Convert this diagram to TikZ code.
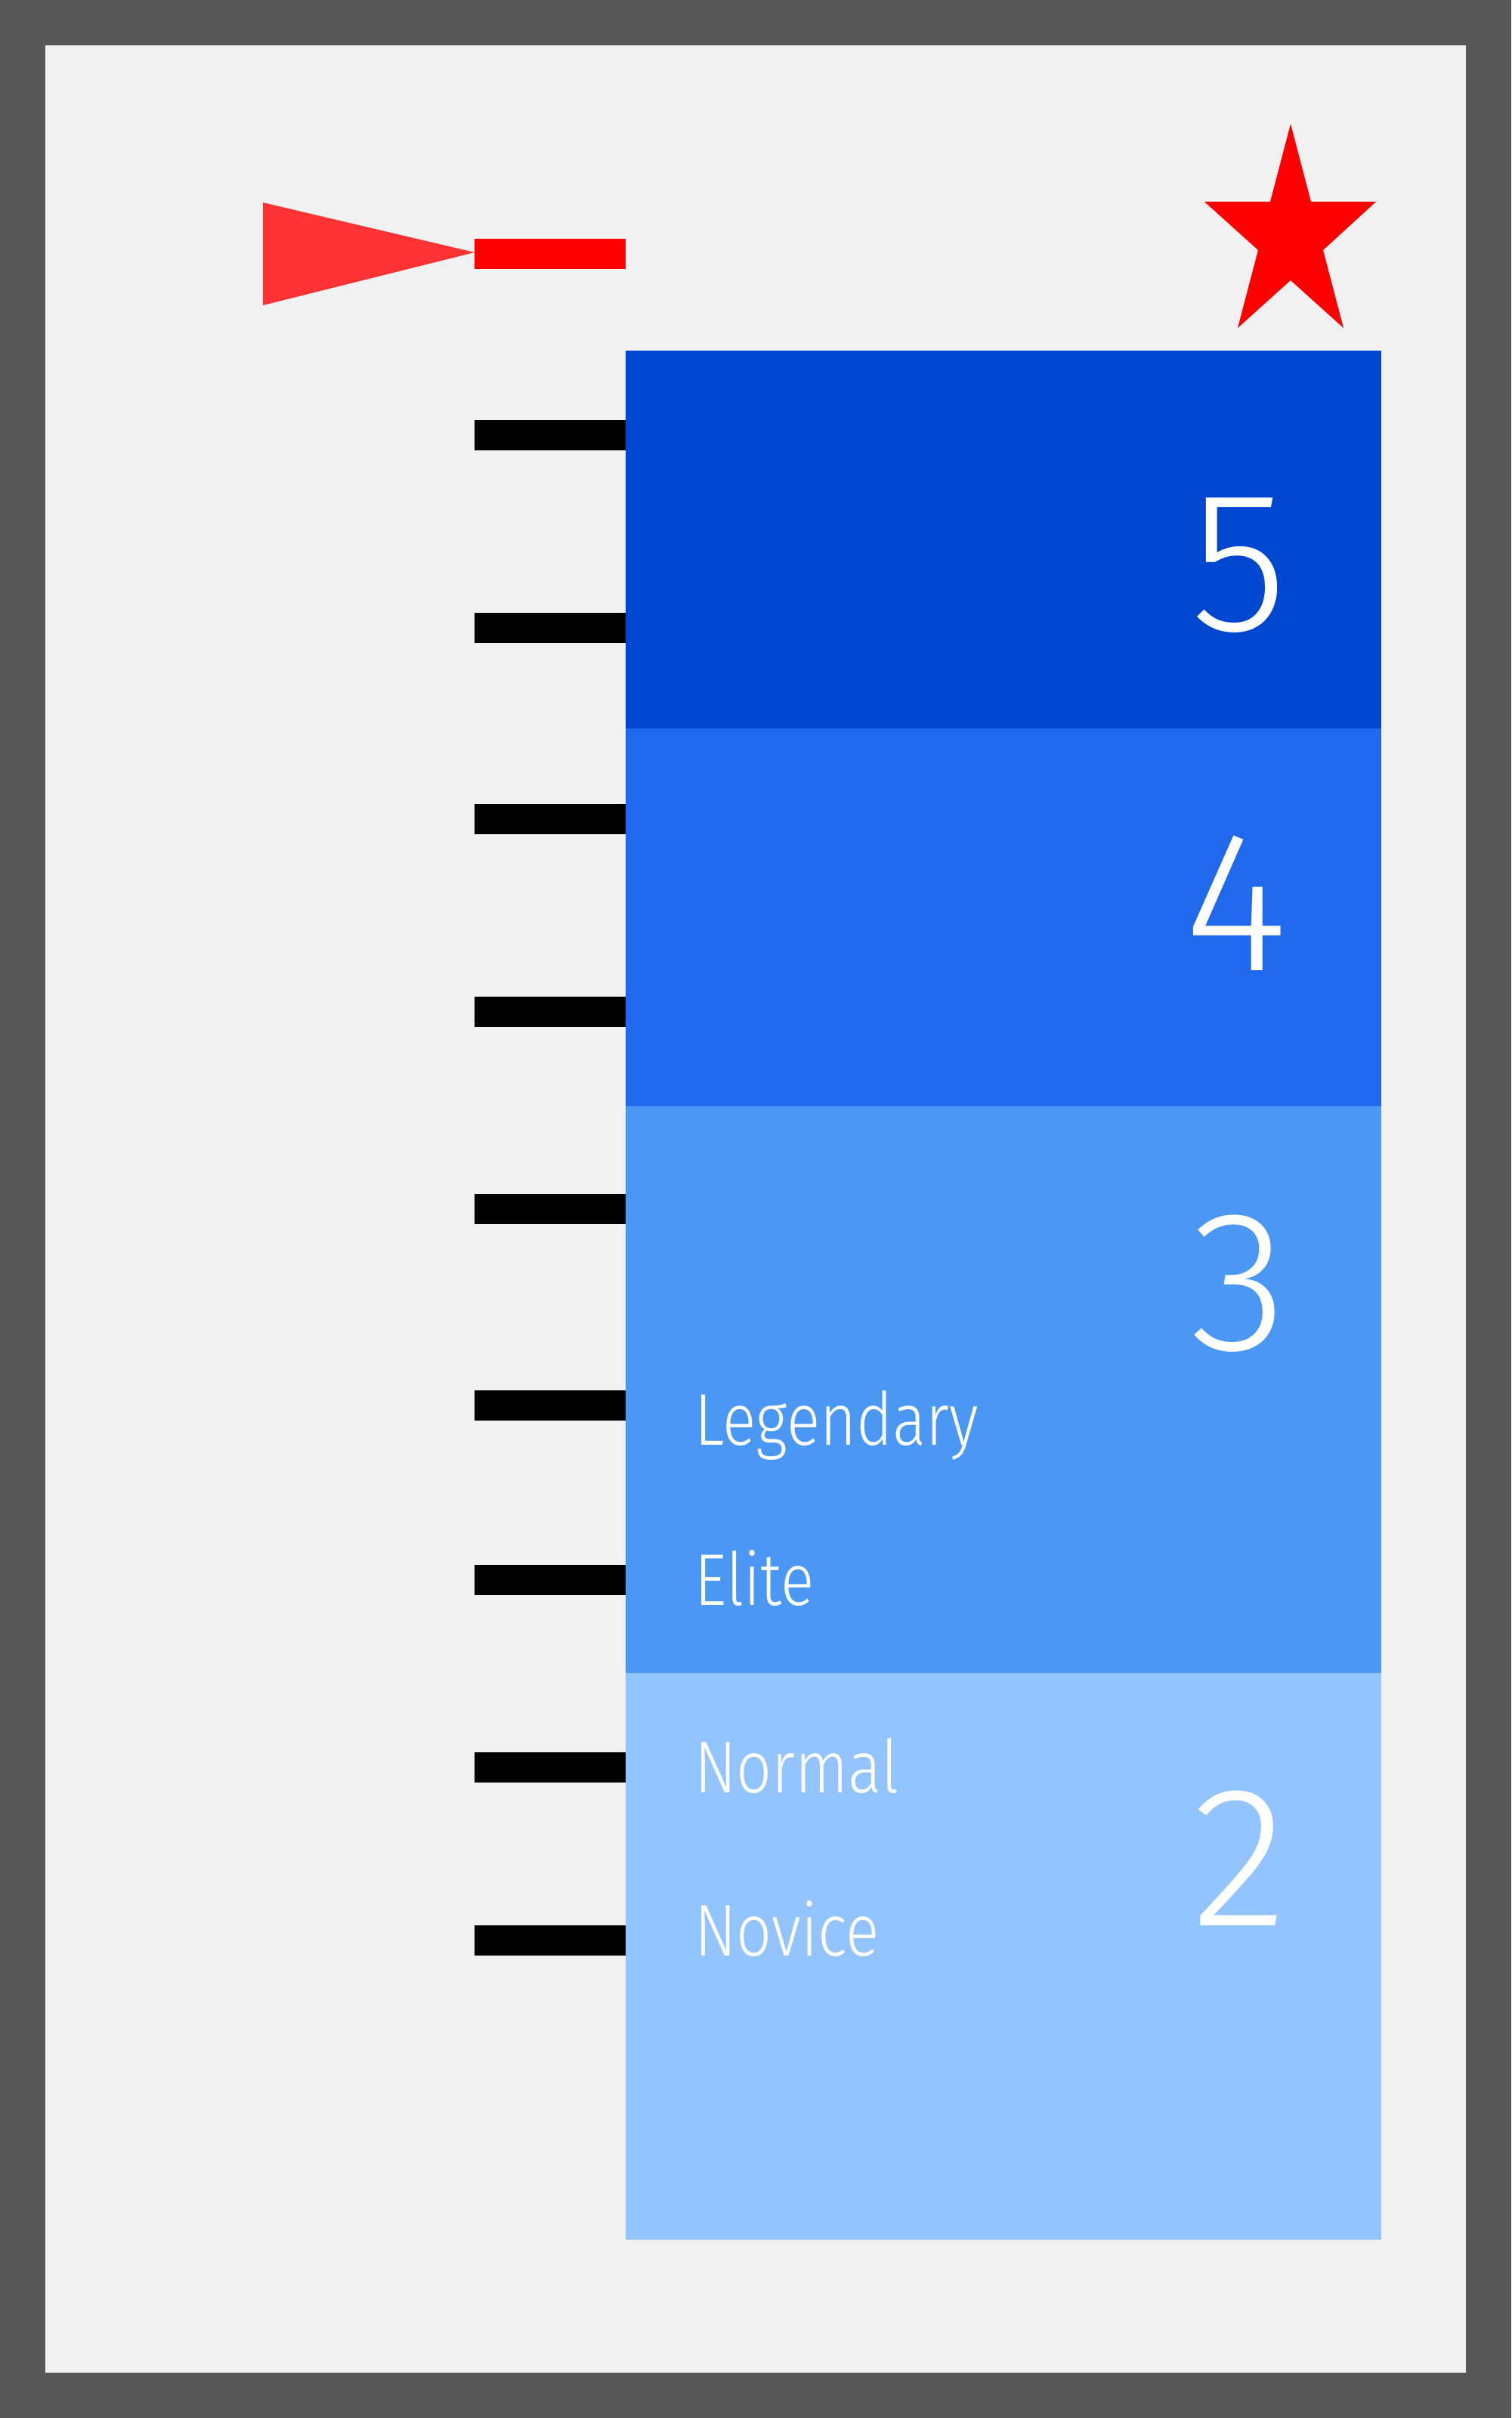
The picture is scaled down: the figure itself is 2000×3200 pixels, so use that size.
\documentclass[tikz,border=0pt]{standalone}
\usepackage{graphicx}
\usepackage{fontspec}
\setmainfont{Fira Sans}[UprightFont={* Light}]
\definecolor{framegray}{RGB}{87,87,87}
\definecolor{paper}{RGB}{241,241,241}
\definecolor{bandfive}{RGB}{0,71,208}
\definecolor{bandfour}{RGB}{32,104,236}
\definecolor{bandthree}{RGB}{74,152,244}
\definecolor{bandtwo}{RGB}{148,196,255}
\definecolor{pointerred}{RGB}{255,51,51}
\definecolor{markred}{RGB}{255,0,0}
\newcommand{\narrowtext}[1]{\scalebox{0.85}[1]{#1}}
\begin{document}
\begin{tikzpicture}[x=1pt,y=-1pt,
  tickbar/.style={fill=black},
  levellabel/.style={anchor=base west,inner sep=0pt,text=white,font=\fontsize{97}{110}\selectfont},
  levelnum/.style={anchor=base east,inner sep=0pt,text=white,font=\fontsize{264}{300}\selectfont}]
\useasboundingbox (0,0) rectangle (2000,3200);
\fill[framegray] (0,0) rectangle (2000,3200);
\fill[paper] (60,60) rectangle (1940,3140);
% bands
\fill[bandfive] (828,464) rectangle (1828,964);
\fill[bandfour] (828,964) rectangle (1828,1464);
\fill[bandthree] (828,1464) rectangle (1828,2214);
\fill[bandtwo] (828,2214) rectangle (1828,2964);
% ticks
\foreach \ty in {576,831,1084,1339,1600,1860,2091,2339,2568}
  \fill[tickbar] (628,\ty-20) rectangle (828,\ty+20);
% pointer
\fill[markred] (628,316) rectangle (828,356);
\fill[pointerred] (348,268) -- (628,334) -- (348,404) -- cycle;
% star
\fill[markred] (1708,164) -- (1735,267) -- (1821,267) -- (1751,331) -- (1778,434)
  -- (1708,371) -- (1638,434) -- (1665,331) -- (1594,267) -- (1681,267) -- cycle;
% numbers
\node[levelnum] (n5) at (1704,834) {5};
\node[levelnum] (n4) at (1704,1284) {4};
\node[levelnum] (n3) at (1704,1786) {3};
\node[levelnum] (n2) at (1704,2548) {2};
% labels
\node[levellabel] (legendary) at (919,1912) {\narrowtext{Legendary}};
\node[levellabel] (elite) at (919,2124) {\narrowtext{Elite}};
\node[levellabel] (normal) at (919,2372) {\narrowtext{Normal}};
\node[levellabel] (novice) at (919,2588) {\narrowtext{Novice}};
\end{tikzpicture}
\end{document}
